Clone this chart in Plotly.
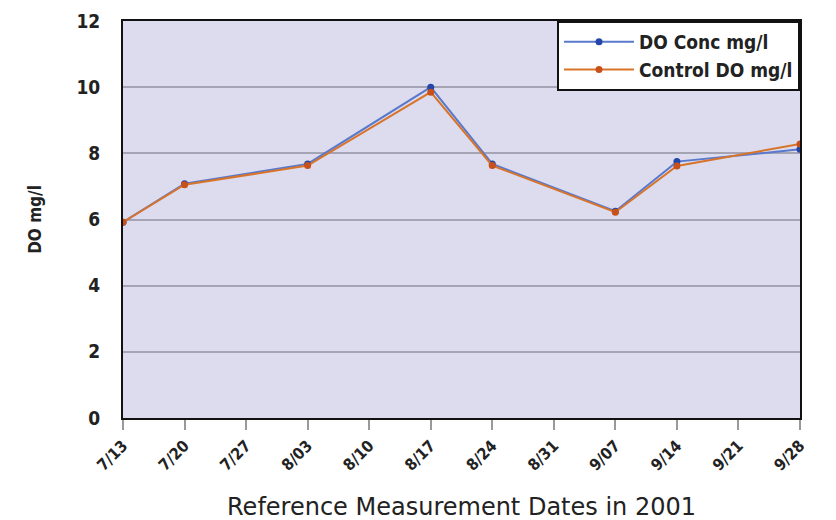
import plotly.graph_objects as go

dates = ["7/13", "7/20", "7/27", "8/03", "8/10", "8/17", "8/24", "8/31", "9/07", "9/14", "9/21", "9/28"]
do_conc = [5.92, 7.08, None, 7.68, None, 10.0, 7.68, None, 6.25, 7.75, None, 8.12]
control_do = [5.92, 7.05, None, 7.63, None, 9.85, 7.63, None, 6.22, 7.62, None, 8.28]

cond = "DejaVu Sans Condensed, DejaVu Sans, sans-serif"

fig = go.Figure()
fig.add_trace(go.Scatter(
    x=list(range(len(dates))), y=do_conc, name="DO Conc mg/l",
    mode="lines+markers", connectgaps=True,
    line=dict(color="#5a78cc", width=2),
    marker=dict(color="#2446a8", size=7, symbol="circle"),
))
fig.add_trace(go.Scatter(
    x=list(range(len(dates))), y=control_do, name="Control DO mg/l",
    mode="lines+markers", connectgaps=True,
    line=dict(color="#d8742a", width=2),
    marker=dict(color="#c8501a", size=7, symbol="circle"),
))

fig.update_layout(
    width=836, height=520,
    margin=dict(l=115, r=44, t=13, b=110, autoexpand=False),
    paper_bgcolor="white",
    plot_bgcolor="#dcdcee",
    font=dict(family=cond, color="#222"),
    showlegend=True,
    legend=dict(
        x=1.0, y=1.0, xanchor="right", yanchor="top",
        bgcolor="white", bordercolor="#111", borderwidth=2,
        font=dict(size=19, color="#222", family=cond, weight="bold"),
        itemwidth=70, tracegroupgap=0,
    ),
    xaxis=dict(
        tickmode="array", tickvals=list(range(len(dates))), ticktext=dates,
        range=[0, len(dates) - 1],
        tickangle=-45, tickfont=dict(size=16, color="#222", family=cond, weight="bold"),
        ticks="outside", ticklen=10, tickcolor="#999", tickwidth=2,
        showgrid=False, zeroline=False, automargin=False,
        showline=True, linecolor="#111", linewidth=2, mirror=True,
        title=dict(text="Reference Measurement Dates in 2001",
                   font=dict(size=24, color="#222", family="DejaVu Sans, sans-serif"),
                   standoff=25),
    ),
    yaxis=dict(
        range=[0, 12], dtick=2,
        tickfont=dict(size=19, color="#222", family=cond, weight="bold"),
        showgrid=True, gridcolor="#a4a4b4", gridwidth=2,
        zeroline=False, automargin=False,
        showline=True, linecolor="#111", linewidth=2, mirror=True,
        ticks="outside", ticklen=17, tickcolor="rgba(0,0,0,0)",
        title=dict(text="DO mg/l", font=dict(size=17, color="#222", family=cond, weight="bold"), standoff=30),
    ),
)

fig.write_html("out.html")
